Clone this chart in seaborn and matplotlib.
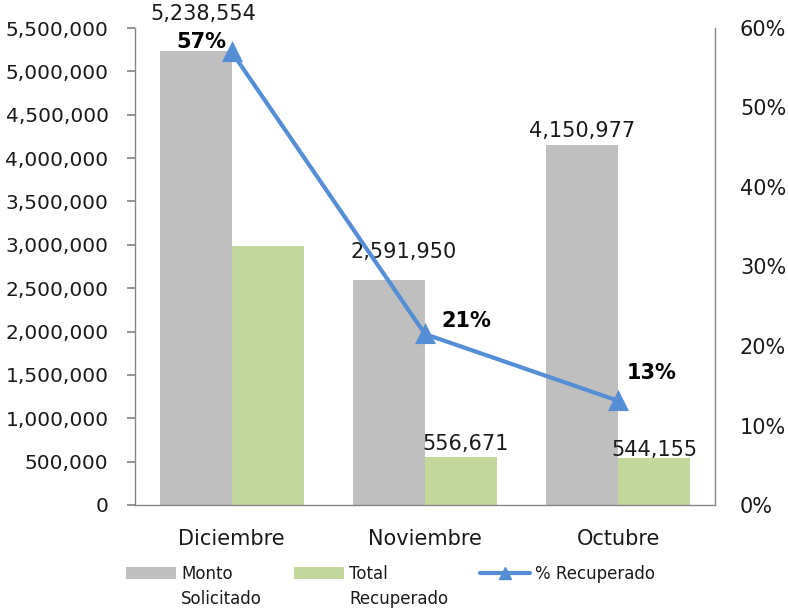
import matplotlib
matplotlib.use("Agg")
import matplotlib.pyplot as plt
import seaborn as sns
import pandas as pd
from matplotlib.patches import Patch
from matplotlib.lines import Line2D
from matplotlib.ticker import FuncFormatter, MultipleLocator

months = ["Diciembre", "Noviembre", "Octubre"]
monto_solicitado = [5238554, 2591950, 4150977]
total_recuperado = [2985000, 556671, 544155]
pct_recuperado = [0.57, 0.215, 0.131]
pct_labels = ["57%", "21%", "13%"]
series_names = ["Monto Solicitado", "Total Recuperado"]
legend_first = ["Monto", "Total", "% Recuperado"]
legend_second = ["Solicitado", "Recuperado", None]

sns.set_theme(style="white")
plt.rcParams["font.family"] = ["DejaVu Sans"]

GREY = "#BFBFBF"
GREEN = "#C4D79B"
BLUE = "#558ED5"
TXT = "#1a1a1a"
AX = "#868686"
FS = 15

df = pd.DataFrame({
    "Mes": months * 2,
    "Serie": [series_names[0]] * 3 + [series_names[1]] * 3,
    "Valor": monto_solicitado + total_recuperado,
})
dfp = pd.DataFrame({"Mes": months, "Pct": pct_recuperado})

fig = plt.figure(figsize=(7.88, 6.08), dpi=100)
ax = fig.add_axes([135 / 788, 1 - 505 / 608, (715 - 135) / 788, (505 - 28) / 608])

sns.barplot(data=df, x="Mes", y="Valor", hue="Serie", order=months,
            hue_order=series_names, palette=[GREY, GREEN], width=0.745,
            saturation=1, legend=False, linewidth=0, edgecolor="none", ax=ax)
ax.set_xlim(-0.5, 2.5)
ax.set_ylim(0, 5500000)
ax.yaxis.set_major_locator(MultipleLocator(500000))
ax.yaxis.set_major_formatter(FuncFormatter(lambda v, p: f"{int(v):,}"))
ax.set_xlabel("")
ax.set_ylabel("")

ax2 = ax.twinx()
sns.pointplot(data=dfp, x="Mes", y="Pct", order=months, color=BLUE,
              markers="^", linestyles="-", ax=ax2,
              markersize=12, linewidth=3.0)
ax2.set_xlim(-0.5, 2.5)
ax2.set_ylim(0, 0.6)
ax2.yaxis.set_major_locator(MultipleLocator(0.1))
ax2.yaxis.set_major_formatter(FuncFormatter(lambda v, p: f"{v*100:.0f}%"))
ax2.set_ylabel("")
ax2.set_xlabel("")

for a in (ax, ax2):
    for s in a.spines.values():
        s.set_color(AX)
        s.set_linewidth(1)
    a.spines["top"].set_visible(False)
    a.grid(False)

ax.spines["right"].set_visible(False)
ax2.spines["left"].set_visible(False)
ax2.spines["bottom"].set_visible(False)

ax.tick_params(axis="y", which="both", left=True, length=6, color=AX,
               pad=13, labelsize=14.5, labelcolor=TXT)
ax.tick_params(axis="x", length=0, pad=17, labelsize=FS, labelcolor=TXT)
ax2.tick_params(axis="y", right=False, length=0, pad=18, labelsize=FS,
                labelcolor=TXT)
ax2.tick_params(axis="x", length=0)

# bar labels
bars = ax.patches
grey_off = [(8, 37), (15, 28), (0, 14)]
green_off = [None, (5, 13), (0, 8)]
for i in range(3):
    b = bars[i]
    ax.annotate(f"{monto_solicitado[i]:,}", (b.get_x() + b.get_width() / 2, b.get_height()),
                xytext=grey_off[i], textcoords="offset pixels",
                ha="center", va="center", fontsize=FS, color=TXT)
for i in range(3):
    if green_off[i] is None:
        continue
    b = bars[3 + i]
    ax.annotate(f"{total_recuperado[i]:,}", (b.get_x() + b.get_width() / 2, b.get_height()),
                xytext=green_off[i], textcoords="offset pixels",
                ha="center", va="center", fontsize=FS, color=TXT)

pct_off = [(-30, 10), (41, 13), (33, 28)]
for i in range(3):
    ax2.annotate(pct_labels[i], (i, pct_recuperado[i]), xytext=pct_off[i],
                 textcoords="offset pixels", ha="center", va="center",
                 fontsize=FS, fontweight="bold", color="black")

# legend: one entry per legend box, placed like the reference
handles = [Patch(facecolor=GREY, edgecolor="none"),
           Patch(facecolor=GREEN, edgecolor="none"),
           Line2D([0], [0], color=BLUE, lw=3.0, marker="^", markersize=8)]
starts = [126, 294, 480]
legs = []
for h, lab, x0 in zip(handles, legend_first, starts):
    lg = fig.legend([h], [lab], loc="center left",
                    bbox_to_anchor=(x0 / 788, 1 - 574 / 608),
                    frameon=False, fontsize=12, handlelength=3.0,
                    handleheight=0.72, handletextpad=0.3, borderpad=0,
                    borderaxespad=0, labelcolor=TXT)
    legs.append(lg)
fig.canvas.draw()
inv = fig.transFigure.inverted()
for lg, s in zip(legs, legend_second):
    if s is None:
        continue
    t = lg.get_texts()[0]
    bb = t.get_window_extent()
    xf, _ = inv.transform((bb.x0, bb.y0))
    fig.text(xf, 1 - 599 / 608, s, ha="left", va="center", fontsize=12,
             color=TXT)

fig.savefig("out.png", dpi=100, facecolor="white")
